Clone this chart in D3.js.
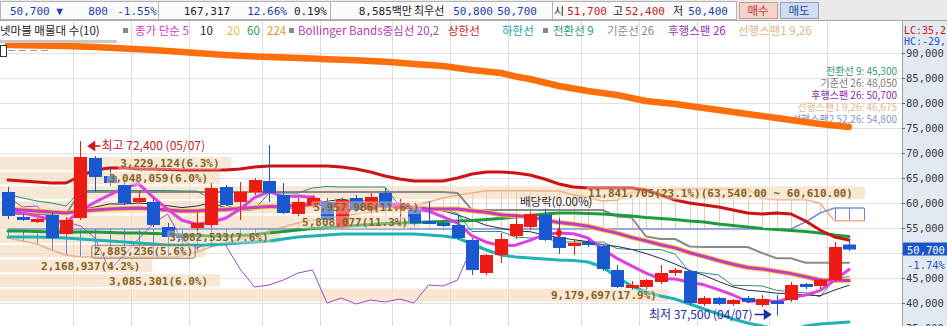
<!DOCTYPE html>
<html>
<head>
<meta charset="utf-8">
<script src="https://cdn.jsdelivr.net/npm/d3@7"></script>
<style>
  body { margin: 0; background: #fff; }
  svg { display: block; font-family: "DejaVu Sans Mono", "Noto Sans CJK KR", monospace; }
  .kr { font-family: "Noto Sans CJK KR", "DejaVu Sans", sans-serif; }
</style>
</head>
<body>
<svg id="chart" width="947" height="326"></svg>
<script>
// ---------- daily candles ----------
const opens  = [62200,57200,56400,57600,53800,57000,69000,65400,63600,60200, 60200,55200,53600,55000,55600,63200,60200,62200,64400,61600,
                57800,59600,60200,55200,61000,58600,62000,59000,58600,56400, 56000,55600,52600,46000,49600,53400,55200,57600,53200,51400,
                52200,51400,46600,43200,43200,44200,46200,46400,39800,41000, 39800,41000,39600,40400,40600,43800,43400,44600,51700];
const highs  = [63200,57800,57000,58200,57200,72400,69400,67000,64400,62600, 61000,56000,54400,58000,64000,63600,64200,65000,71600,64000,
                61000,61600,61000,61000,61600,62000,63000,60800,59000,60400, 56400,57600,53000,49800,54000,57600,58200,58800,57000,52800,
                52600,51800,47600,44400,44800,47600,47000,46600,41400,41200, 40800,41400,41600,41600,44200,44000,45000,52200,52400];
const lows   = [56800,56400,56000,52600,53400,56600,62200,63400,59600,59800, 55200,52600,52400,54400,55000,59400,56600,61600,60200,57800,
                57400,59000,56200,54800,58200,58000,58800,56400,55600,55800, 55200,52800,45600,45600,48000,52800,54600,52400,49800,49600,
                51200,46400,43000,42600,42600,43800,45400,39600,39400,39600, 39400,40000,39200,37500,40200,42800,42800,44200,50400];
const closes = [57400,56800,56800,53000,56600,69200,65200,64000,60000,61000, 55600,53200,53000,56000,63000,59600,62200,64600,62000,58000,
                60200,61000,56600,60600,58600,61200,59200,59400,56000,56200, 55400,53000,46600,49600,52800,55800,57800,52600,51000,52000,
                51600,46800,43200,43600,44600,46000,46600,40000,41000,39800, 40600,40200,40800,40000,43600,43400,44600,51200,50700];

// ---------- moving averages ----------
const ma5   = [58400,58000,57400,56600,56120,58480,60160,61600,63000,63880, 61160,58760,56560,55760,56160,56960,58760,61080,62280,61280,
               61400,61160,59560,59280,59400,59600,59240,59800,58880,58400, 57240,56000,53440,52160,51480,51560,52520,53720,54000,53840,
               53000,50800,48920,47440,45960,44840,44800,44160,43640,42680, 41600,40320,40480,40280,41040,41600,42480,44560,46700];
const ma10  = [59000,58800,58600,58000,57800,58600,59200,59800,59800,60000, 59820,59460,59080,59380,60020,59060,58760,58820,59020,58720,
               59180,59960,60320,60780,60340,60500,60200,59680,59080,58900, 58420,57620,56620,55520,54940,54400,54260,53580,53080,52660,
               52280,51660,51320,50720,49900,48920,47800,46540,45540,44320, 43220,42560,42320,41960,41860,41600,41460,42580,43550];
const ma20  = [58800,58600,58400,58200,58000,58400,58600,58800,58900,59000, 58800,58600,58400,58400,58600,58700,58900,59100,59300,59360,
               59500,59710,59700,60080,60180,59780,59480,59250,59050,58810, 58800,58790,58470,58150,57640,57450,57230,56630,56080,55780,
               55350,54640,53970,53120,52420,51660,51030,50060,49310,48490, 47750,47110,46820,46340,45880,45260,44600,44530,44515];
const ma60  = [54400,54400,54300,54200,54200,54200,54200,54100,54000,54000, 53900,53800,53600,53500,53400,53400,53500,53700,54000,54300,
               54600,54900,55100,55300,55500,55700,55900,56000,56100,56200, 56300,56400,56500,56700,56900,57200,57500,57800,58000,58000,
               57900,57800,57600,57400,57100,56900,56700,56400,56200,55800, 55500,55200,54900,54700,54500,54300,54000,53600,53300];
const ma224 = [91600,91550,91500,91450,91400,91300,91200,91050,90900,90750, 90600,90400,90200,90000,89800,89600,89450,89300,89200,89100,
               89000,88900,88750,88650,88550,88400,88250,88050,87800,87600, 87400,87000,86600,86300,86000,85300,84800,84100,83400,82900,
               82400,82000,81600,81000,80400,80100,79800,79400,79000,78600, 78200,77800,77400,77000,76600,76200,75800,75500,75200];

// ---------- Bollinger Bands (20,2) ----------
const bbMiddle = ma20;
const bbUpper = [64600,64400,64200,64000,64000,65400,66600,67000,67000,66800, 66800,66700,66600,66600,66600,66600,66800,67200,67400,67400,
                 67400,67400,67400,67200,66800,66200,65400,64800,64400,64400, 64400,65000,65800,66200,66200,66000,65600,64800,63800,63200,
                 63000,63000,63000,63000,62600,61600,60600,60000,59600,59200, 58600,58000,57800,58000,57800,56400,54600,53200,52600];
const bbLower = [53200,53200,53200,53100,53000,52800,52600,52400,52200,52000, 51800,51600,51600,51600,51600,51800,52000,52200,52400,52800,
                 53200,53400,53600,53800,53800,53800,53800,53800,53800,53600, 53400,53000,51800,50600,49600,49200,49000,48800,48600,48500,
                 48200,47200,45200,43400,42200,41400,40800,39800,38800,37800, 36800,36000,35400,34800,34400,35400,35800,36000,36200];

// ---------- Ichimoku ----------
const tenkan = [61800,61000,60400,60000,59400,62500,62500,62500,62500,62500, 62500,62500,62400,62400,60900,59700,58400,58700,62000,62000,
                62000,63000,63300,63200,63200,63200,63200,59400,58900,58900, 58900,57900,54300,54300,54300,53200,53000,53000,52200,52200,
                52200,52200,50900,50700,50700,50700,49800,46200,46000,45600, 43500,43500,43400,42550,42250,42050,41250,44850,45300];
const kijun  = [57800,57800,57800,57800,57800,62200,62200,62200,62200,62200, 62200,62200,62200,62200,62200,62200,62200,62200,62200,62200,
                62200,62200,62200,62200,62200,62200,62200,62200,62200,62200, 62200,62000,58600,58600,58600,58600,58600,58600,58600,58600,
                58600,58600,57300,57100,53300,52800,52800,51300,51200,51200, 51200,51200,50000,48950,48950,48050,48050,48050,48050];
const laggingSpan = [61200,59200,59400,56000,56200,55400,53000,46600,49600,52800, 55800,57800,52600,51000,52000,51600,46800,43200,43600,44600,
                     46000,46600,40000,41000,39800,40600,40200,40800,40000,43600, 43400,44600,51200,50700];
const spanA = [53000,52400,51800,50600,49600,49200,49200,49200,49200,49200, 49200,49200,49400,50200,51200,52000,52800,53600,54400,55200,
               56000,56600,57000,57400,57800,58200,58600,59000,59400,60200, 61000,61600,62000,62450,62450,62450,62450,62400,62400,61650,
               61050,60400,60550,62200,62200,62200,62700,62850,62800,62800, 62800,62800,60900,60650,60650,60650,59950,56450,56450,56450];
const spanB = [54800,54800,54800,54800,54800,54800,54800,54800,54800,54800, 54800,54800,54800,54800,54800,54800,54800,54800,54800,54800,
               54800,54800,54800,54800,54800,54800,54800,54800,54800,54800, 54800,54800,54800,54800,54800,54800,54800,54800,54800,54800,
               54800,54800,54800,54800,54800,54800,54800,54800,54800,54800, 54800,54800,54800,54800,54800,56200,58000,59000,59000,59000];

// ---------- volume by price (매물대, 10 bands) ----------
const vpTop    = [69400,66470,63540,60610,57680,54750,51820,48890,45960,43030];
const vpBottom = [66470,63540,60610,57680,54750,51820,48890,45960,43030,40100];
const vpPct    = [6.3,6.0,23.1,11.6,11.3,7.6,5.6,4.2,6.0,17.9];
const vpLabels = ["3,229,124(6.3%)","3,048,059(6.0%)","11,841,705(23.1%)(63,540.00 ~ 60,610.00)","5,957,986(11.6%)",
                  "5,808,077(11.3%)","3,882,533(7.6%)","2,885,236(5.6%)","2,168,937(4.2%)","3,085,301(6.0%)","9,179,697(17.9%)"];

// week separators (first candle of each week) and price ticks
const weekStarts = [5,9,13,18,22,27,31,35,40,44,48,53,57];
const priceTicks = [35000,40000,45000,50000,55000,60000,65000,70000,75000,80000,85000,90000];

// ---------- layout ----------
const W = 947, H = 326, plotR = 902, plotT = 21;
const svg = d3.select("#chart");
const x = d3.scaleLinear().domain([0, 59]).range([8, 863.5]);
const y = d3.scaleLinear().domain([35000, 90000]).range([328, 53]);
const vx = d3.scaleLinear().domain([0, 23.1]).range([0, 871]);

const RED = "#ec1c14", BLUE = "#1a58d0";

svg.append("rect").attr("width", W).attr("height", H).attr("fill", "#fff");
svg.append("clipPath").attr("id", "plot")
  .append("rect").attr("x", 0).attr("y", plotT).attr("width", plotR).attr("height", H - plotT);
const plot = svg.append("g").attr("clip-path", "url(#plot)");

// grid
plot.selectAll(".hg").data(priceTicks).enter().append("line")
  .attr("x1", 0).attr("x2", plotR)
  .attr("y1", d => Math.round(y(d)) + 0.5).attr("y2", d => Math.round(y(d)) + 0.5)
  .attr("stroke", "#e2e2e2");
plot.selectAll(".vg").data(weekStarts).enter().append("line")
  .attr("x1", d => Math.round(x(d) - 7.25) + 0.5).attr("x2", d => Math.round(x(d) - 7.25) + 0.5)
  .attr("y1", plotT).attr("y2", H)
  .attr("stroke", "#dcdcdc");

// volume-by-price bars
const vp = plot.append("g");
vp.selectAll("rect").data(vpPct).enter().append("rect")
  .attr("x", -3).attr("y", (d, i) => y(vpTop[i]) + 1)
  .attr("width", d => vx(d) - 3)
  .attr("height", (d, i) => y(vpBottom[i]) - y(vpTop[i]) - 2)
  .attr("rx", 3)
  .attr("fill", "#f3d8bc").attr("fill-opacity", 0.62);

// ichimoku value labels (under the lines)
const ichiText = [["전환선 9: 45,300", "#2a9a7a"], ["기준선 26: 48,050", "#7a7a7a"], ["후행스팬 26: 50,700", "#8a2ab0"],
                  ["선행스팬1 9,26: 46,675", "#e2b890"], ["선행스팬2 52,26: 54,800", "#8494c8"]];
plot.selectAll(".ichi").data(ichiText).enter().append("text")
  .attr("class", "kr").attr("x", 897).attr("y", (d, i) => 75 + i * 12)
  .attr("text-anchor", "end").attr("font-size", 10).attr("fill", d => d[1]).text(d => d[0]);

// cloud hatch
plot.selectAll(".cloud").data(spanA).enter().append("line")
  .attr("x1", (d, i) => Math.round(x(i)) + 0.5).attr("x2", (d, i) => Math.round(x(i)) + 0.5)
  .attr("y1", d => y(d)).attr("y2", (d, i) => y(spanB[i]))
  .attr("stroke", (d, i) => d >= spanB[i] ? "#f2c8a4" : "#6a86dc").attr("stroke-width", 1);

const line = d3.line().x((d, i) => x(i)).y(d => y(d));
function drawLine(data, color, width) {
  plot.append("path").datum(data).attr("d", line)
    .attr("fill", "none").attr("stroke", color).attr("stroke-width", width)
    .attr("stroke-linejoin", "round").attr("stroke-linecap", "round");
}
drawLine(spanA, "#eeb088", 1.5);
drawLine(spanB, "#7c90d8", 1.5);
drawLine(kijun, "#8a8a8a", 2);
drawLine(tenkan, "#2a8f7a", 1);
drawLine(ma10, "#26284a", 1);
drawLine(laggingSpan, "#9a4cc0", 1);
drawLine(ma60, "#1c9c3c", 3);
drawLine(bbLower, "#20b2b4", 3);
drawLine(bbUpper, "#cc1212", 3);
drawLine(ma20, "#f2c840", 5);
drawLine(bbMiddle, "#c43cc4", 3);
drawLine(ma5, "#e040e0", 3);
drawLine(ma224, "#ff6e0a", 6.5);

// candles
const candles = plot.append("g").selectAll("g").data(closes).enter().append("g");
candles.append("line")
  .attr("x1", (d, i) => Math.round(x(i)) + 0.5).attr("x2", (d, i) => Math.round(x(i)) + 0.5)
  .attr("y1", (d, i) => y(highs[i])).attr("y2", (d, i) => y(lows[i]))
  .attr("stroke", (d, i) => d >= opens[i] ? RED : BLUE);
candles.append("rect")
  .attr("x", (d, i) => Math.round(x(i)) - 6).attr("width", 13)
  .attr("y", (d, i) => y(Math.max(d, opens[i])))
  .attr("height", (d, i) => Math.max(3, Math.abs(y(d) - y(opens[i]))))
  .attr("fill", (d, i) => d >= opens[i] ? RED : BLUE);

// volume-by-price labels with a pale box behind
const vpl = plot.append("g").selectAll("g").data(vpLabels).enter().append("g");
const vpText = vpl.append("text")
  .attr("x", (d, i) => vx(vpPct[i]) - 18)
  .attr("y", (d, i) => (y(vpTop[i]) + y(vpBottom[i])) / 2 + 4)
  .attr("text-anchor", "end").attr("font-size", 11).attr("font-weight", "bold")
  .attr("fill", "#84621e").text(d => d);
vpText.each(function (d, i) {
  const b = this.getBBox();
  d3.select(this.parentNode).insert("rect", "text")
    .attr("x", b.x - 2).attr("y", b.y).attr("width", b.width + 4).attr("height", b.height)
    .attr("rx", 2).attr("fill", "#f8ead8").attr("fill-opacity", 0.4)
    .attr("stroke", i === 6 ? "#8a7a5a" : "none");
});

// dividend marker
plot.append("path")
  .attr("d", d3.symbol(d3.symbolDiamond, 40)())
  .attr("transform", `translate(${x(38)},${y(54000)})`).attr("fill", RED);
plot.append("text").attr("class", "kr").attr("x", 520).attr("y", 206)
  .attr("font-size", 11.5).attr("fill", "#222").text("배당락(0.00%)");

// highest / lowest annotations
const hiY = y(72400) + 5;
plot.append("path").attr("d", `M${x(5) + 8},${hiY} l6,-4 l0,8 z M${x(5) + 12},${hiY} L${x(5) + 20},${hiY}`)
  .attr("fill", "#c81e1e").attr("stroke", "#c81e1e").attr("stroke-width", 1.5);
plot.append("text").attr("class", "kr").attr("x", x(5) + 21).attr("y", hiY + 4)
  .attr("font-size", 12).attr("fill", "#c01c1c").text("최고 72,400 (05/07)");
const loY = y(37500) - 1;
plot.append("path").attr("d", `M${x(53) - 6},${loY} l-6,-4 l0,8 z M${x(53) - 10},${loY} L${x(53) - 22},${loY}`)
  .attr("fill", "#1c2ca0").attr("stroke", "#1c2ca0").attr("stroke-width", 1.5);
plot.append("text").attr("class", "kr").attr("x", x(53) - 24).attr("y", loY + 4)
  .attr("text-anchor", "end").attr("font-size", 12).attr("fill", "#1c2ca0").text("최저 37,500 (04/07)");

// top-left icon
plot.append("rect").attr("x", 0).attr("y", 40).attr("width", 117).attr("height", 3).attr("fill", "#c8c8c8");
plot.append("rect").attr("x", 0.5).attr("y", 45.5).attr("width", 6).attr("height", 11).attr("fill", "#fff").attr("stroke", "#333");
plot.append("line").attr("x1", 8).attr("x2", 50).attr("y1", 50.5).attr("y2", 50.5)
  .attr("stroke", "#999").attr("stroke-dasharray", "7,4");

// legend row
const legend = svg.append("g").attr("class", "kr").attr("font-size", 11.5);
const legendItems = [["넷마블 매물대 수(10)", 0, "#222"], ["종가 단순 5", 135, "#d23cc8"], ["10", 200, "#222"], ["20", 227, "#d8c23c"],
  ["60", 247, "#2a9a4a"], ["224", 267, "#e8923a"], ["Bollinger Bands중심선 20,2", 298, "#b03cb4"], ["상한선", 448, "#d02020"],
  ["하한선", 502, "#22a0a6"], ["전환선 9", 553, "#2a9a80"], ["기준선 26", 607, "#8a8a8a"], ["후행스팬 26", 668, "#9a30b4"],
  ["선행스팬1 9,26", 738, "#e2b48c"]];
legend.selectAll("text").data(legendItems).enter().append("text")
  .attr("x", d => d[1]).attr("y", 35).attr("fill", d => d[2]).text(d => d[0]);
legend.selectAll("rect").data([123, 289, 543]).enter().append("rect")
  .attr("x", d => d).attr("y", 28).attr("width", 5).attr("height", 5).attr("fill", "#8a8a8a");

// right price axis
const axisG = svg.append("g");
axisG.append("rect").attr("x", plotR).attr("y", plotT).attr("width", W - plotR).attr("height", H - plotT).attr("fill", "#e3e9f1");
axisG.append("line").attr("x1", plotR + 0.5).attr("x2", plotR + 0.5).attr("y1", plotT).attr("y2", H).attr("stroke", "#9aa6b8");
const yAxis = d3.axisRight(y).tickValues(priceTicks).tickSize(3)
  .tickFormat(d => d === 50000 ? "" : d3.format(",")(d));
axisG.append("g").attr("transform", `translate(${plotR},0)`).call(yAxis)
  .call(g => g.select(".domain").remove())
  .call(g => g.selectAll("line").attr("stroke", "#666"))
  .call(g => g.selectAll("text").attr("x", 4).attr("font-size", 10.5).attr("fill", "#3a3a3a")
    .attr("font-family", "DejaVu Sans Mono"));
axisG.append("rect").attr("x", plotR + 1).attr("y", y(closes[58]) - 7).attr("width", 46).attr("height", 13).attr("fill", "#1a56c8");
axisG.append("text").attr("x", plotR + 5).attr("y", y(closes[58]) + 4).attr("font-size", 10.5).attr("fill", "#fff").text("50,700");
axisG.append("text").attr("x", plotR + 5).attr("y", y(closes[58]) + 19).attr("font-size", 10.5).attr("fill", "#1a56c8").text("-1.74%");
axisG.append("text").attr("x", plotR + 2).attr("y", 34).attr("font-size", 10).attr("fill", "#d01010").text("LC:35,2");
axisG.append("text").attr("x", plotR + 2).attr("y", 45).attr("font-size", 10).attr("fill", "#1a56c8").text("HC:-29,");

// header bar
const header = svg.append("g").attr("font-size", 11);
header.append("rect").attr("width", W).attr("height", plotT).attr("fill", "#e9e9e9");
header.append("rect").attr("x", 0.5).attr("y", 1.5).attr("width", 736).attr("height", 18).attr("fill", "#fafafa").attr("stroke", "#b4b4b4");
header.selectAll(".sep").data([158, 330, 552]).enter().append("line")
  .attr("x1", d => d + 0.5).attr("x2", d => d + 0.5).attr("y1", 2).attr("y2", 19).attr("stroke", "#b4b4b4");
header.append("line").attr("x1", 0).attr("x2", W).attr("y1", plotT - 0.5).attr("y2", plotT - 0.5).attr("stroke", "#a8a8a8");
const HB = "#1a3fb0", HR = "#c41a1a", HK = "#222";
const headerItems = [["50,700 ▼", 10, "start", HB], ["800", 108, "end", HB], ["-1.55%", 157, "end", HB], ["167,317", 230, "end", HK],
  ["12.66%", 287, "end", HB], ["0.19%", 327, "end", HK], ["8,585백만", 412, "end", HK], ["최우선", 414, "start", HK],
  ["50,800", 493, "end", HB], ["50,700", 537, "end", HB], ["시", 554, "start", HK], ["51,700", 607, "end", HR],
  ["고", 613, "start", HK], ["52,400", 665, "end", HR], ["저", 673, "start", HK], ["50,400", 728, "end", HB]];
header.selectAll("text.h").data(headerItems).enter().append("text")
  .attr("x", d => d[1]).attr("y", 15).attr("text-anchor", d => d[2]).attr("fill", d => d[3]).text(d => d[0]);
const buttons = [["매수", 739, "#f6d2cc", "#c89a90", "#c03030"], ["매도", 780, "#d0dcf2", "#90a2c8", "#2a4aa0"]];
const btn = header.selectAll("g.btn").data(buttons).enter().append("g");
btn.append("rect").attr("x", d => d[1] + 0.5).attr("y", 2.5).attr("width", 38).attr("height", 16)
  .attr("fill", d => d[2]).attr("stroke", d => d[3]);
btn.append("text").attr("class", "kr").attr("x", d => d[1] + 19).attr("y", 15).attr("text-anchor", "middle")
  .attr("font-size", 11.5).attr("fill", d => d[4]).text(d => d[0]);
</script>
</body>
</html>
